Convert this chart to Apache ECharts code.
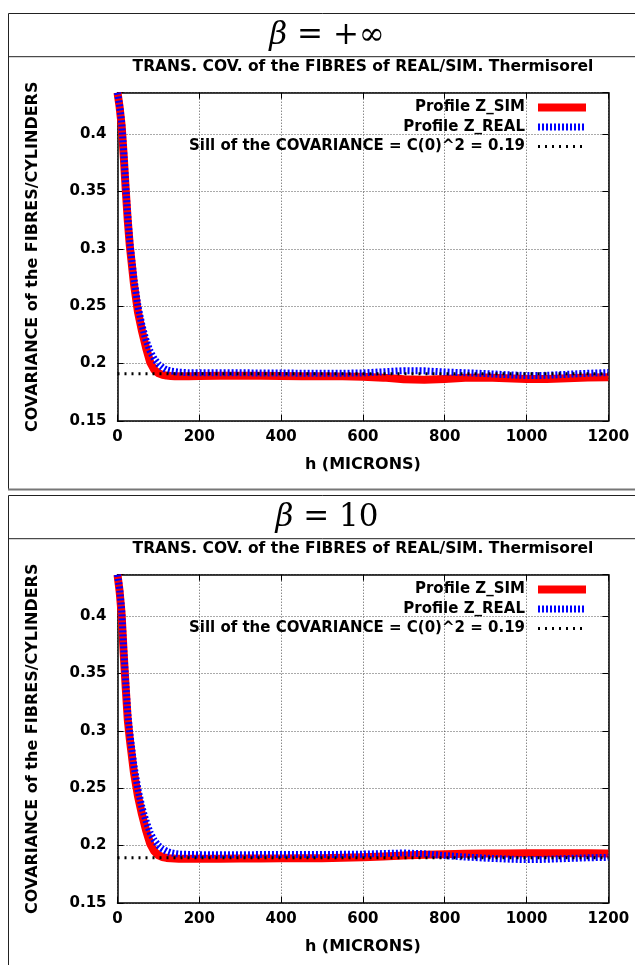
<!DOCTYPE html>
<html>
<head>
<meta charset="utf-8">
<script src="https://cdn.jsdelivr.net/npm/echarts@6/dist/echarts.min.js"></script>
<style>
html,body{margin:0;padding:0;background:#fff;}
#chart{width:635px;height:965px;}
</style>
</head>
<body>
<div id="chart"></div>
<script>
// ---- data ----
const hMicrons = [0,5,10,15,20,25,30,40,50,60,70,80,90,100,110,120,130,140,150,175,200,250,300,350,400,450,500,550,600,650,700,750,800,850,900,950,1000,1050,1100,1150,1200];

const simBetaInf = [0.436,0.424,0.408,0.382,0.352,0.325,0.303,0.270,0.245,0.228,0.2135,0.201,0.1945,0.1915,0.1902,0.1895,0.1891,0.189,0.189,0.189,0.1892,0.1893,0.1894,0.1893,0.1892,0.189,0.1889,0.1888,0.1885,0.1877,0.1862,0.1858,0.1865,0.1875,0.1878,0.1872,0.1866,0.1866,0.1872,0.1878,0.188];
const realBetaInf = [0.436,0.425,0.41,0.385,0.355,0.328,0.306,0.274,0.25,0.233,0.22,0.2105,0.204,0.1995,0.1965,0.1945,0.1935,0.193,0.1925,0.192,0.192,0.192,0.1919,0.1918,0.1917,0.1916,0.1915,0.1915,0.1918,0.1928,0.1938,0.1936,0.1926,0.192,0.1912,0.1903,0.1895,0.1897,0.1906,0.1915,0.1921];
const sillBetaInf = 0.191;

const simBeta10 = [0.436,0.422,0.402,0.368,0.338,0.31,0.293,0.264,0.243,0.227,0.213,0.2015,0.195,0.1915,0.19,0.1892,0.1888,0.1886,0.1885,0.1884,0.1884,0.1885,0.1886,0.1887,0.1888,0.1889,0.189,0.1893,0.1898,0.1905,0.1913,0.1919,0.1924,0.1928,0.193,0.1931,0.1932,0.1933,0.1933,0.1932,0.193];
const realBeta10 = [0.436,0.424,0.406,0.372,0.342,0.315,0.298,0.27,0.249,0.233,0.221,0.211,0.2045,0.2,0.197,0.195,0.1937,0.193,0.1925,0.1922,0.192,0.192,0.192,0.1921,0.1921,0.1921,0.1922,0.1923,0.1925,0.193,0.1935,0.1928,0.1912,0.19,0.189,0.1882,0.1877,0.188,0.1887,0.1893,0.1897];
const sillBeta10 = 0.1893;

const panelBetas = ['+\u221E', '10'];
const chartTitle = 'TRANS. COV. of the FIBRES of REAL/SIM. Thermisorel';
const seriesNames = ['Profile Z_SIM', 'Profile Z_REAL', 'Sill of the COVARIANCE = C(0)^2 = 0.19'];
const xTickLabels = ['0','200','400','600','800','1000','1200'];
const yTickLabels = ['0.15','0.2','0.25','0.3','0.35','0.4'];
const xName = 'h (MICRONS)';
const yName = 'COVARIANCE of the FIBRES/CYLINDERS';

// ---- build ----
const panels = [
  {sim: simBetaInf, real: realBetaInf, sill: sillBetaInf, beta: panelBetas[0], off: 0},
  {sim: simBeta10, real: realBeta10, sill: sillBeta10, beta: panelBetas[1], off: 482}
];
const FONT = 'DejaVu Sans';
const txt = {fontFamily: FONT, fontWeight: 'bold', fontSize: 15, color: '#000'};

function yFmt(v){ const s = String(+v.toFixed(3)); return yTickLabels.indexOf(s) >= 0 ? s : ''; }
function xFmt(v){ const s = String(Math.round(v)); return xTickLabels.indexOf(s) >= 0 ? s : ''; }

const grid = [], xAxis = [], yAxis = [], series = [], legend = [], title = [], graphic = [];
panels.forEach(function(p, k){
  const top = 92.7 + p.off;
  grid.push({left: 117.5, top: top, width: 490.8, height: 328.2, containLabel: false});
  const axLine = {show: true, onZero: false, lineStyle: {color: '#000', width: 1.5}};
  const tick = {inside: true, length: 6, lineStyle: {color: '#000', width: 1}};
  xAxis.push({gridIndex: k, type: 'value', min: 0, max: 1200, interval: 200, position: 'bottom',
    axisLine: axLine, axisTick: tick,
    axisLabel: Object.assign({margin: 9, formatter: xFmt}, txt),
    splitLine: {show: true, lineStyle: {color: '#555', type: [1, 2], width: 1}},
    name: xName, nameLocation: 'middle', nameGap: 36,
    nameTextStyle: {fontFamily: FONT, fontWeight: 'bold', fontSize: 16, color: '#000'}});
  xAxis.push({gridIndex: k, type: 'value', min: 0, max: 1200, interval: 200, position: 'top',
    axisLine: axLine, axisTick: tick, axisLabel: {show: false}, splitLine: {show: false}});
  yAxis.push({gridIndex: k, type: 'value', min: 0.15, max: 0.436, interval: 0.05, position: 'left',
    axisLine: axLine, axisTick: tick,
    axisLabel: Object.assign({margin: 11, formatter: yFmt}, txt),
    splitLine: {show: true, lineStyle: {color: '#555', type: [1, 2], width: 1}},
    name: yName, nameLocation: 'middle', nameGap: 77, nameRotate: 90,
    nameTextStyle: {fontFamily: FONT, fontWeight: 'bold', fontSize: 16, color: '#000'}});
  yAxis.push({gridIndex: k, type: 'value', min: 0.15, max: 0.436, interval: 0.05, position: 'right',
    axisLine: axLine, axisTick: tick, axisLabel: {show: false}, splitLine: {show: false}});

  const ax = 2 * k;
  series.push({name: seriesNames[0], type: 'line', xAxisIndex: ax, yAxisIndex: ax, symbol: 'none',
    data: hMicrons.map(function(h, i){ return [h, p.sim[i]]; }),
    lineStyle: {color: '#ff0000', width: 8, cap: 'butt', join: 'round'}, itemStyle: {color: '#ff0000'}, z: 2, animation: false});
  series.push({name: seriesNames[1], type: 'line', xAxisIndex: ax, yAxisIndex: ax, symbol: 'none',
    data: hMicrons.map(function(h, i){ return [h, p.real[i]]; }),
    lineStyle: {color: '#0000ff', width: 7, type: [2, 2], cap: 'butt'}, itemStyle: {color: '#0000ff'}, z: 3, animation: false});
  series.push({name: seriesNames[2], type: 'line', xAxisIndex: ax, yAxisIndex: ax, symbol: 'none',
    data: [[xTickLabels[0] * 1, p.sill], [xTickLabels[xTickLabels.length - 1] * 1, p.sill]],
    lineStyle: {color: '#000', width: 3, type: [2, 5], cap: 'butt'}, itemStyle: {color: '#000'}, z: 4, animation: false});

  legend.push({orient: 'vertical', align: 'right', right: 45, top: 100 + p.off, padding: 0,
    itemWidth: 48, itemHeight: 14, itemGap: 4.5, selectedMode: false,
    textStyle: Object.assign({padding: [0, 8, 0, 0], lineHeight: 14}, txt),
    data: [
      {name: seriesNames[0], itemStyle: {opacity: 0}, lineStyle: {width: 8, color: '#ff0000', type: 'solid'}},
      {name: seriesNames[1], itemStyle: {opacity: 0}, lineStyle: {width: 7, color: '#0000ff', type: [2, 2]}},
      {name: seriesNames[2], itemStyle: {opacity: 0}, lineStyle: {width: 3, color: '#000', type: [2, 5]}}
    ]});

  title.push({text: chartTitle, left: 363, top: 59 + p.off, textAlign: 'center', padding: 0,
    textStyle: {fontFamily: FONT, fontWeight: 'bold', fontSize: 15.5, color: '#000'}});

  // panel frame + header
  graphic.push({type: 'rect', z: -10, shape: {x: 8.5, y: 13.5 + p.off, width: 660, height: k === 0 ? 476 : 520},
    style: {fill: 'none', stroke: '#222', lineWidth: 1}});
  graphic.push({type: 'line', z: -10, shape: {x1: 8.5, y1: 56.7 + p.off, x2: 660, y2: 56.7 + p.off},
    style: {stroke: '#222', lineWidth: 1}});
  graphic.push({type: 'text', z: 10, x: 327, y: 35.5 + p.off,
    style: {text: '{b|\u03B2} = ' + p.beta, align: 'center', verticalAlign: 'middle',
      fontFamily: 'DejaVu Serif', fontSize: 31, fill: '#000',
      rich: {b: {fontFamily: 'DejaVu Serif', fontStyle: 'italic', fontSize: 31, fill: '#000'}}}});
});
graphic.push({type: 'line', z: -9, shape: {x1: 8, y1: 489.5, x2: 660, y2: 489.5}, style: {stroke: '#777', lineWidth: 2}});

const chart = echarts.init(document.getElementById('chart'), null, {renderer: 'canvas'});
chart.setOption({animation: false, backgroundColor: '#fff', grid: grid, xAxis: xAxis, yAxis: yAxis,
  series: series, legend: legend, title: title, graphic: graphic});
</script>
</body>
</html>
